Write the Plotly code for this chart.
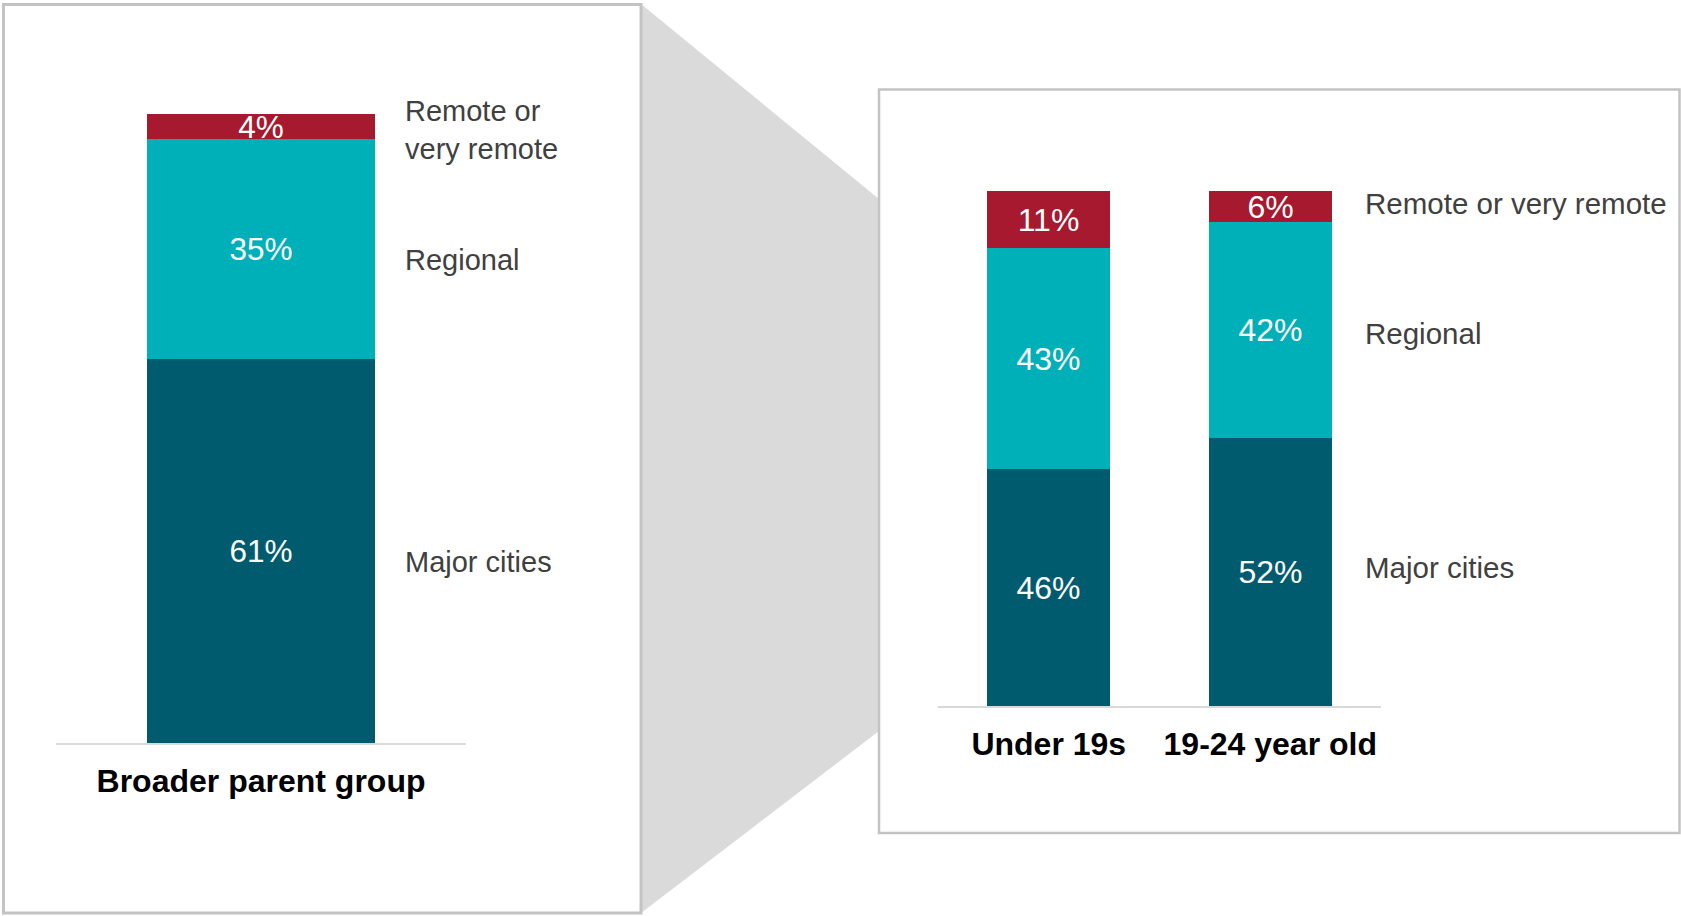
import plotly.graph_objects as go

# ---------------- data ----------------
left_categories = ["Broader parent group"]
right_categories = ["Under 19s", "19-24 year old"]

segment_names = ["Major cities", "Regional", "Remote or very remote"]
left_side_labels = ["Major cities", "Regional", "Remote or<br>very remote"]
right_side_labels = ["Major cities", "Regional", "Remote or very remote"]

left_major = [61]
left_regional = [35]
left_remote = [4]

right_major = [46, 52]
right_regional = [43, 42]
right_remote = [11, 6]

colors = ["#005B6E", "#00B0B9", "#A6192E"]

# ---------------- layout helpers ----------------
W, H = 1681, 916
FONT = "Arial, 'Liberation Sans', sans-serif"


def px(x):
    return x / W


def py(y):
    return 1 - y / H


BAR_W = 0.555

fig = go.Figure()

left_series = [left_major, left_regional, left_remote]
right_series = [right_major, right_regional, right_remote]

for name, vals, col in zip(segment_names, left_series, colors):
    fig.add_trace(go.Bar(
        x=left_categories, y=vals, name=name, marker=dict(color=col, line=dict(width=0)),
        width=BAR_W, text=[f"{v}%" for v in vals], textposition="inside",
        insidetextanchor="middle", constraintext="none", textangle=0,
        textfont=dict(color="white", size=31.5, family=FONT),
        xaxis="x", yaxis="y", showlegend=False, hoverinfo="skip",
    ))

for name, vals, col in zip(segment_names, right_series, colors):
    fig.add_trace(go.Bar(
        x=right_categories, y=vals, name=name, marker=dict(color=col, line=dict(width=0)),
        width=BAR_W, text=[f"{v}%" for v in vals], textposition="inside",
        insidetextanchor="middle", constraintext="none", textangle=0,
        textfont=dict(color="white", size=32, family=FONT),
        xaxis="x2", yaxis="y2", showlegend=False, hoverinfo="skip",
    ))

# side labels positioned at the middle of each segment of the last bar
annotations = []


def side_labels(series, labels, cats, xref, yref, xshift, yshifts, size):
    last = len(cats) - 1
    base = 0
    for vals, lab, ys in zip(series, labels, yshifts):
        v = vals[last]
        annotations.append(dict(
            x=last + BAR_W / 2, y=base + v / 2, xref=xref, yref=yref,
            text=lab, showarrow=False, xanchor="left", yanchor="middle", align="left",
            xshift=xshift, yshift=ys,
            font=dict(size=size, color="#404040", family=FONT),
        ))
        base += v


side_labels(left_series, left_side_labels, left_categories, "x", "y", 28, [-11, -11, -3], 29)
side_labels(right_series, right_side_labels, right_categories, "x2", "y2", 31, [5, -3, 3], 29.5)

# decorative boxes and the zoom funnel
shapes = [
    dict(type="path", xref="paper", yref="paper",
         path=f"M {px(641)},{py(4)} L {px(879)},{py(199)} L {px(879)},{py(731)} L {px(641)},{py(913)} Z",
         fillcolor="#DADADA", line=dict(width=0), layer="below"),
    dict(type="rect", xref="paper", yref="paper",
         x0=px(3.5), x1=px(641), y0=py(913), y1=py(4.5),
         line=dict(color="#C3C3C3", width=3), fillcolor="rgba(0,0,0,0)", layer="below"),
    dict(type="rect", xref="paper", yref="paper",
         x0=px(879), x1=px(1679.5), y0=py(833), y1=py(89.5),
         line=dict(color="#C3C3C3", width=2.5), fillcolor="rgba(0,0,0,0)", layer="below"),
]

xaxis_common = dict(
    type="category", showline=True, linecolor="#D9D9D9", linewidth=2,
    ticks="", showgrid=False, zeroline=False, ticklabelstandoff=9,
    tickfont=dict(size=32, color="#000000", family=FONT, weight="bold"),
    fixedrange=True,
)
yaxis_common = dict(
    range=[0, 100], showgrid=False, zeroline=False, showticklabels=False,
    showline=False, ticks="", fixedrange=True,
)

fig.update_layout(
    width=W, height=H, margin=dict(l=0, r=0, t=0, b=0, pad=0),
    paper_bgcolor="white", plot_bgcolor="rgba(0,0,0,0)",
    barmode="stack", bargap=0, showlegend=False,
    font=dict(family=FONT),
    xaxis=dict(domain=[px(56), px(466)], anchor="y", range=[-0.5, 0.5], **xaxis_common),
    yaxis=dict(domain=[py(743), py(114)], anchor="x", **yaxis_common),
    xaxis2=dict(domain=[px(938), px(1381)], anchor="y2", range=[-0.5, 1.5], **xaxis_common),
    yaxis2=dict(domain=[py(706), py(191)], anchor="x2", **yaxis_common),
    shapes=shapes,
    annotations=annotations,
)

fig.write_html("out.html")
